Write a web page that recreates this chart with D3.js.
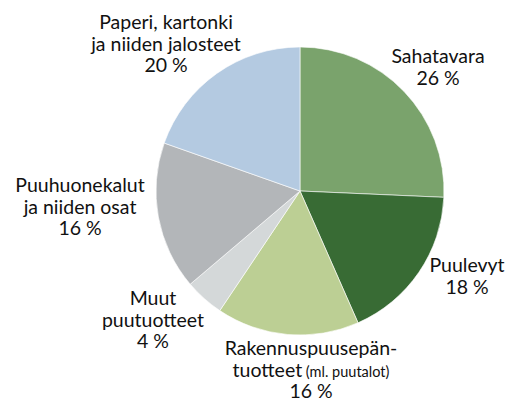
<!DOCTYPE html>
<html lang="fi">
  <head>
    <meta charset="utf-8">
    <title>Puutuotteet</title>
    <script src="https://d3js.org/d3.v7.min.js"></script>
    <style>
      body { margin: 0; background: #fff; }
      text { font-family: Lato, "Open Sans", sans-serif; fill: #111; }
    </style>
  </head>
  <body>
    <svg></svg>
    <script>
    // data, clockwise from 12 o'clock
    const categories = ['Sahatavara', 'Puulevyt', 'Rakennuspuusepäntuotteet', 'Muut puutuotteet',
                        'Puuhuonekalut', 'Paperi']
    const values = [25.7, 17.7, 16.0, 4.4, 16.6, 19.6]
    const percentLabels = ['26 %', '18 %', '16 %', '4 %', '16 %', '20 %']
    const colors = ['#7aa36c', '#386b34', '#bccf94', '#d4d8d9', '#b3b6b9', '#b4cae1']

    const width = 508, height = 403
    const cx = 300, cy = 191, r = 144

    const svg = d3.select('svg')
      .attr('width', width)
      .attr('height', height)

    const pie = d3.pie().sort(null).value(d => d)
    const arc = d3.arc().innerRadius(0).outerRadius(r)

    const g = svg.append('g')
      .attr('transform', `translate(${cx}, ${cy})`)

    g.selectAll('path')
      .data(pie(values))
      .join('path')
        .attr('d', arc)
        .attr('fill', (d, i) => colors[i])
        .attr('stroke', '#fff')
        .attr('stroke-width', 0.6)

    // labels: text lines, centre x and first baseline
    const labels = [
      { lines: [['Sahatavara'], [percentLabels[0]]], x: 438, y: 63 },
      { lines: [['Puulevyt'], [percentLabels[1]]], x: 467, y: 272 },
      { lines: [['Rakennuspuusepän-'], ['tuotteet', ' (ml. puutalot)'], [percentLabels[2]]], x: 311, y: 355 },
      { lines: [['Muut'], ['puutuotteet'], [percentLabels[3]]], x: 153, y: 305 },
      { lines: [['Puuhuonekalut'], ['ja niiden osat'], [percentLabels[4]]], x: 80, y: 192 },
      { lines: [['Paperi, kartonki'], ['ja niiden jalosteet'], [percentLabels[5]]], x: 166, y: 29 }
    ]
    const lineH = 21.5

    labels.forEach(l => {
      const t = svg.append('text')
        .attr('text-anchor', 'middle')
        .attr('font-size', 19.5)
      l.lines.forEach((parts, j) => {
        parts.forEach((p, k) => {
          const s = t.append('tspan').text(p)
          if (k === 0) s.attr('x', l.x).attr('y', l.y + j * lineH)
          else s.attr('font-size', 14.5)
        })
      })
    })
    </script>
  </body>
</html>
